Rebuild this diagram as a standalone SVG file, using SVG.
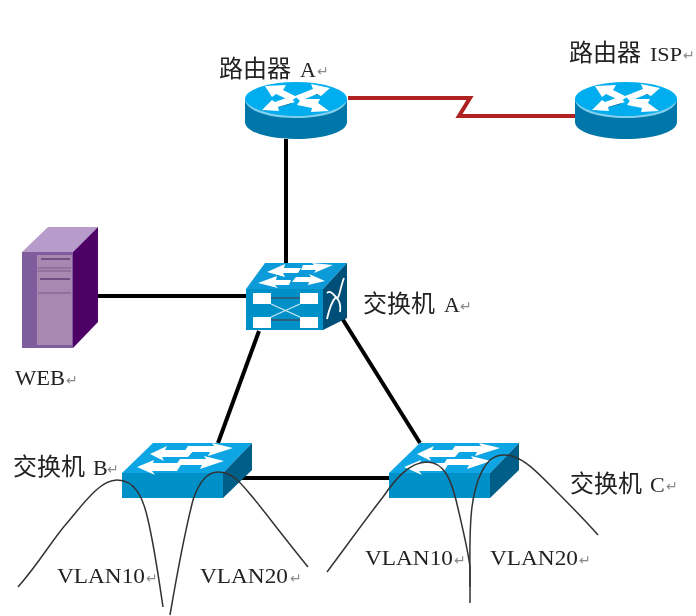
<svg xmlns="http://www.w3.org/2000/svg" width="696" height="616" viewBox="0 0 696 616">
<style>
.t{font-family:"Liberation Serif","Noto Sans CJK SC",serif;font-size:22px;fill:#222}
.c{font-family:"Noto Sans CJK SC","Liberation Sans",sans-serif;font-size:24px;fill:#222}
.r{font-family:"DejaVu Sans",sans-serif;font-size:14px;fill:#8a8a8a}
.k{fill:none;stroke:#000;stroke-width:4}
.v{fill:none;stroke:#333;stroke-width:1.5}
.w{fill:#fff}
</style>
<defs>
<filter id="b" x="-5%" y="-5%" width="110%" height="110%"><feGaussianBlur stdDeviation="0.65"/></filter>
<g id="router">
<path d="M0 17V40C0 50 23 57 51 57S102 50 102 40V17Z" fill="#0077a8"/>
<ellipse cx="51" cy="17" rx="51" ry="17" fill="#00aeef"/>
<path d="M0 18C2 29 23 36 51 36S100 29 102 18C98 27 76 34 51 34S4 27 0 18Z" fill="#7fd0ee"/>
<path d="M20 28L46 21M56 12L74 12" stroke="#05506f" stroke-width="1.5" fill="none"/>
<g class="w">
<polygon points="20,4 41,3 38,8 52,15 46,19 31,12 27,15"/>
<polygon points="85,6 66,2 68,7 50,14 55,19 72,12 76,14"/>
<polygon points="17,28 34,29 33,25 50,20 44,15 30,20 27,18"/>
<polygon points="84,29 66,30 67,26 52,23 56,17 75,17 73,21"/>
</g>
</g>
<g id="swtop">
<polygon points="0,30 31,0 130,0 101,30" fill="#0aa5e3"/>
<polygon points="101,30 130,0 130,27 101,55" fill="#005e88"/>
<rect y="30" width="101" height="25" fill="#0090c8"/>
<g class="w">
<polygon points="28,11 45,3 43,7 72,7 66,14 40,14 42,18"/>
<polygon points="111,5 90,0 92,3 66,3 62,9 88,9 86,13"/>
<polygon points="15,24 32,17 31,20 60,20 55,28 30,28 33,32"/>
<polygon points="102,18 82,13 84,16 58,16 54,22 80,22 78,26"/>
</g>
</g>
</defs>
<rect width="696" height="616" fill="#fff"/>
<g id="connectors" filter="url(#b)">
<path class="k" d="M286 139V263"/>
<path class="k" d="M98 296H246"/>
<path class="k" d="M259 331L218 443"/>
<path class="k" d="M340 315L420 443"/>
<path class="k" d="M241 478H389"/>
<path d="M348 98H470L459 116H576" fill="none" stroke="#b02020" stroke-width="4"/>
</g>
<g id="router-a" filter="url(#b)"><use href="#router" x="245" y="82"/></g>
<g id="router-isp" filter="url(#b)"><use href="#router" x="575" y="82"/></g>
<g id="server-web" filter="url(#b)">
<polygon points="22,252 48,227 98,227 73,252" fill="#b79ccb"/>
<polygon points="73,252 98,227 98,322 73,348" fill="#4d0066"/>
<rect x="22" y="252" width="51" height="96" fill="#7f5c9c"/>
<rect x="37" y="255" width="35" height="90" fill="#a888b0"/>
<path d="M38 268H71M38 271H71M38 293H71" stroke="#8a6a98" stroke-width="1.5" fill="none"/>
<path d="M41 259H70M40 279H70" stroke="#6f4f85" stroke-width="2" fill="none"/>
</g>
<g id="switch-a" filter="url(#b)">
<polygon points="246,289 265,263 347,263 323,289" fill="#0a9ad8"/>
<polygon points="323,289 347,263 347,318 323,330" fill="#004f78"/>
<rect x="246" y="289" width="77" height="41" fill="#0090c8"/>
<g class="w">
<polygon points="267,272 285,264 284,268 301,268 298,273 283,273 285,277"/>
<polygon points="333,265 312,263 314,265 303,265 301,270 316,270 314,273"/>
<polygon points="258,283 277,276 276,280 291,280 289,285 275,285 278,288"/>
<polygon points="325,281 309,274 311,277 296,277 292,282 309,282 308,285"/>
<rect x="253" y="293" width="18" height="11"/>
<rect x="300" y="293" width="18" height="11"/>
<rect x="253" y="317" width="18" height="11"/>
<rect x="300" y="317" width="18" height="11"/>
</g>
<path d="M271 298H300M271 320H300" stroke="#2a5f7d" stroke-width="2" fill="none"/>
<path d="M271 304L300 317M271 317L300 304" stroke="#cfeaf7" stroke-width="1.2" fill="none"/>
<path d="M327 293C331 289 335 297 337 298S341 285 344 278M327 319C329 310 332 301 336 297C340 301 341 306 340 312" stroke="#fff" stroke-width="1.8" fill="none"/>
</g>
<g id="switch-b" filter="url(#b)"><use href="#swtop" x="122" y="443"/></g>
<g id="switch-c" filter="url(#b)"><use href="#swtop" x="389" y="443"/></g>
<g id="vlan-curves" filter="url(#b)">
<path class="v" d="M18 587C40 562 52 540 67 523C84 503 100 480 117 480C135 480 143 497 148 520C154 545 159 580 163 607"/>
<path class="v" d="M170 615C176 580 184 535 193 500C199 482 208 472 218 472C232 472 240 482 250 494C262 508 278 530 308 567"/>
<path class="v" d="M327 572C345 548 365 520 383 497C396 478 410 462 427 462C444 462 451 480 456 500C462 525 468 550 470 567L470 603"/>
<path class="v" d="M470 587C470 550 469 530 472 507C475 485 480 470 490 460C496 455 504 454 512 456C525 460 535 470 550 485C565 500 585 520 598 535"/>
</g>
<g id="labels" filter="url(#b)">
<text class="c" x="219" y="77">路由器</text><text class="t" x="300" y="77">A</text><text class="r" x="317" y="76">↵</text>
<text class="c" x="569" y="61">路由器</text><text class="t" x="650" y="61" style="font-size:19px" textLength="32" lengthAdjust="spacingAndGlyphs">ISP</text><text class="r" x="683" y="60">↵</text>
<text class="c" x="363" y="312">交换机</text><text class="t" x="444" y="312">A</text><text class="r" x="460" y="311">↵</text>
<text class="c" x="13" y="475">交换机</text><text class="t" x="93" y="475">B</text><text class="r" x="107" y="474">↵</text>
<text class="c" x="570" y="492">交换机</text><text class="t" x="650" y="492">C</text><text class="r" x="666" y="491">↵</text>
<text class="t" x="15" y="385" textLength="50" lengthAdjust="spacingAndGlyphs">WEB</text><text class="r" x="66" y="385">↵</text>
<text class="t" x="57" y="583" textLength="88" lengthAdjust="spacingAndGlyphs">VLAN10</text><text class="r" x="146" y="583">↵</text>
<text class="t" x="200" y="583" textLength="88" lengthAdjust="spacingAndGlyphs">VLAN20</text><text class="r" x="290" y="583">↵</text>
<text class="t" x="365" y="565" textLength="88" lengthAdjust="spacingAndGlyphs">VLAN10</text><text class="r" x="454" y="565">↵</text>
<text class="t" x="490" y="565" textLength="88" lengthAdjust="spacingAndGlyphs">VLAN20</text><text class="r" x="579" y="565">↵</text>
</g>
</svg>
